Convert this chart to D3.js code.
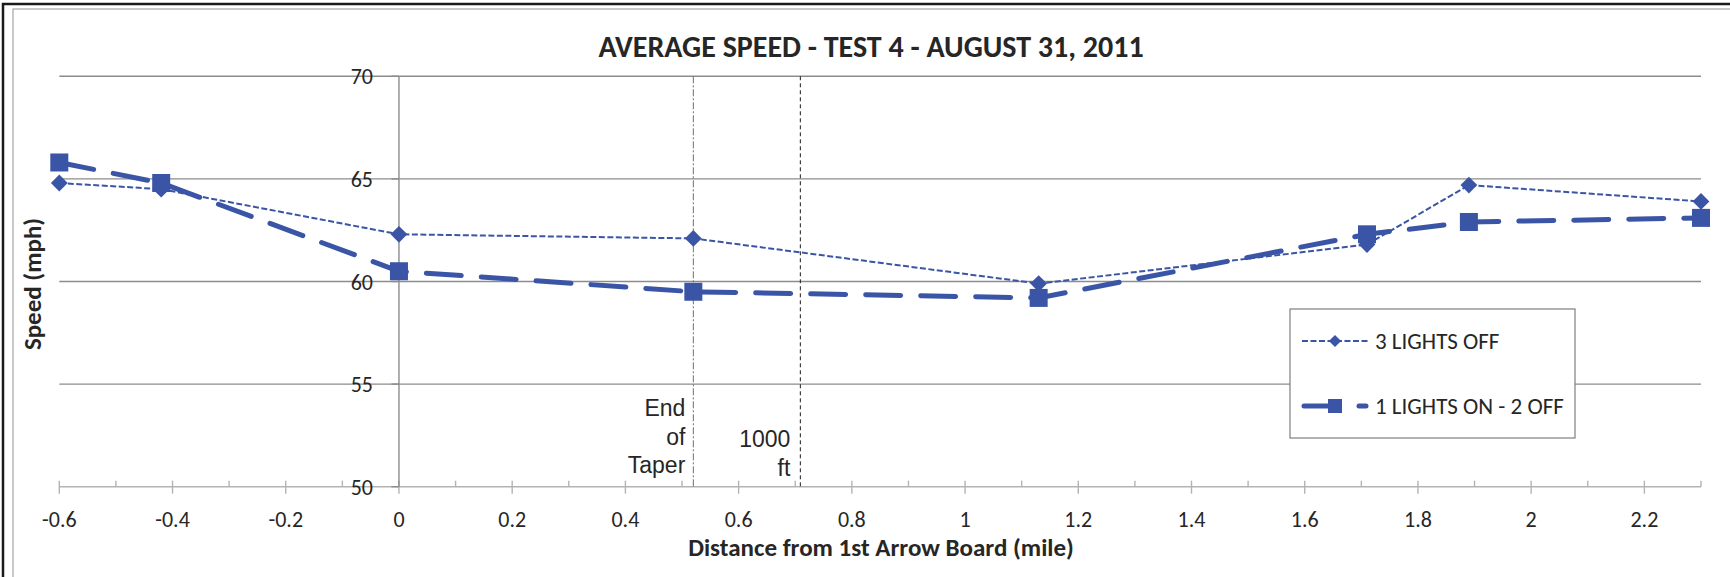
<!doctype html>
<html lang="en">
<head>
<meta charset="utf-8">
<title>Average Speed - Test 4 - August 31, 2011</title>
<script src="https://cdn.jsdelivr.net/npm/d3@7"></script>
<style>
  body { margin: 0; background: #fff; }
  svg text { font-family: Calibri, Carlito, Lato, "Open Sans", sans-serif; fill: #262626; }
  .arial { font-family: "Liberation Sans", Arial, sans-serif; }
</style>
</head>
<body>
<script>
// data
var distance  = [-0.6, -0.42, 0, 0.52, 1.13, 1.71, 1.89, 2.3];
var lightsOff = [64.8, 64.5, 62.3, 62.1, 59.9, 61.8, 64.7, 63.9];
var oneOn     = [65.8, 64.8, 60.5, 59.5, 59.2, 62.3, 62.9, 63.1];
var seriesNames = ["3 LIGHTS OFF", "1 LIGHTS ON - 2 OFF"];
var xTicks = [-0.6, -0.4, -0.2, 0, 0.2, 0.4, 0.6, 0.8, 1, 1.2, 1.4, 1.6, 1.8, 2, 2.2];
var yTicks = [50, 55, 60, 65, 70];
var endOfTaper = 0.52, thousandFt = 0.709;

var W = 1730, H = 577;
var blue = "#3a55a5";

var svg = d3.select("body").append("svg").attr("width", W).attr("height", H);

// frames
svg.append("rect").attr("x", 3).attr("y", 4).attr("width", W + 20).attr("height", H + 20)
    .attr("fill", "none").attr("stroke", "#1a1a1a").attr("stroke-width", 2.5);
svg.append("rect").attr("x", 13).attr("y", 9).attr("width", W + 20).attr("height", H + 20)
    .attr("fill", "none").attr("stroke", "#a6a6a6").attr("stroke-width", 1.2);

var x = d3.scaleLinear().domain([-0.6, 2.3]).range([59.3, 1701]);
var y = d3.scaleLinear().domain([50, 70]).range([486.7, 76.3]);

// title
svg.append("text").attr("x", 871).attr("y", 57).attr("text-anchor", "middle")
    .attr("font-size", 30).attr("font-weight", "bold").text("AVERAGE SPEED - TEST 4 - AUGUST 31, 2011");

// gridlines
svg.append("g").selectAll("line").data(yTicks.slice(1)).enter().append("line")
    .attr("x1", x(-0.6)).attr("x2", x(2.3))
    .attr("y1", function(d){return y(d);}).attr("y2", function(d){return y(d);})
    .attr("stroke", "#8c8c8c").attr("stroke-width", 1.4);

// x axis at y=50
var xAxis = svg.append("g").attr("transform", "translate(0," + y(50) + ")");
xAxis.append("line").attr("x1", x(-0.6)).attr("x2", x(2.3)).attr("stroke", "#b3b3b3").attr("stroke-width", 1.4);
var minor = d3.range(-5, 24).map(function(i){return i / 10;}).filter(function(d){return Math.round(d * 10) % 2 !== 0;});
xAxis.selectAll(".minor").data(minor).enter().append("line")
    .attr("x1", function(d){return x(d);}).attr("x2", function(d){return x(d);})
    .attr("y1", -6).attr("y2", 0).attr("stroke", "#b3b3b3").attr("stroke-width", 1.4);
xAxis.selectAll(".major").data(xTicks).enter().append("line")
    .attr("x1", function(d){return x(d);}).attr("x2", function(d){return x(d);})
    .attr("y1", -6).attr("y2", 7).attr("stroke", "#b3b3b3").attr("stroke-width", 1.4);
xAxis.selectAll("text").data(xTicks).enter().append("text")
    .attr("x", function(d){return x(d);}).attr("y", 40.6).attr("text-anchor", "middle")
    .attr("font-size", 22).text(function(d){return d;});

// y axis at x=0
var yAxis = svg.append("g").attr("transform", "translate(" + x(0) + ",0)");
yAxis.append("line").attr("y1", y(50)).attr("y2", y(70)).attr("stroke", "#8c8c8c").attr("stroke-width", 1.4);
yAxis.selectAll("line.t").data(yTicks).enter().append("line")
    .attr("x1", -7.5).attr("x2", 0)
    .attr("y1", function(d){return y(d);}).attr("y2", function(d){return y(d);})
    .attr("stroke", "#8c8c8c").attr("stroke-width", 1.4);
yAxis.selectAll("text").data(yTicks).enter().append("text")
    .attr("x", -26).attr("y", function(d){return y(d) + 8;}).attr("text-anchor", "end")
    .attr("font-size", 22).text(function(d){return d;});

// axis titles
svg.append("text").attr("x", 881).attr("y", 556).attr("text-anchor", "middle")
    .attr("font-size", 25).attr("font-weight", "bold").text("Distance from 1st Arrow Board (mile)");
svg.append("text").attr("transform", "translate(41," + 284 + ") rotate(-90)").attr("text-anchor", "middle")
    .attr("font-size", 25).attr("font-weight", "bold").text("Speed (mph)");

// reference lines
svg.append("line").attr("x1", x(endOfTaper)).attr("x2", x(endOfTaper)).attr("y1", y(70)).attr("y2", y(50))
    .attr("stroke", "#6e6e6e").attr("stroke-width", 1).attr("stroke-dasharray", "7,2,2,2");
svg.append("line").attr("x1", x(thousandFt)).attr("x2", x(thousandFt)).attr("y1", y(70)).attr("y2", y(50))
    .attr("stroke", "#1a1a1a").attr("stroke-width", 1).attr("stroke-dasharray", "4,3");

var taper = svg.append("g").attr("class", "arial").attr("font-size", 23).attr("text-anchor", "end");
taper.append("text").attr("class", "arial").attr("x", x(endOfTaper) - 8).attr("y", 416).text("End");
taper.append("text").attr("class", "arial").attr("x", x(endOfTaper) - 8).attr("y", 445).text("of");
taper.append("text").attr("class", "arial").attr("x", x(endOfTaper) - 8).attr("y", 473).text("Taper");
taper.append("text").attr("class", "arial").attr("x", x(thousandFt) - 10).attr("y", 447).text("1000");
taper.append("text").attr("class", "arial").attr("x", x(thousandFt) - 10).attr("y", 476).text("ft");

// series
var pts1 = distance.map(function(d, i){return [d, lightsOff[i]];});
var pts2 = distance.map(function(d, i){return [d, oneOn[i]];});
var line = d3.line().x(function(d){return x(d[0]);}).y(function(d){return y(d[1]);});

svg.append("path").attr("d", line(pts1)).attr("fill", "none").attr("stroke", blue)
    .attr("stroke-width", 2).attr("stroke-dasharray", "6,2.5");
svg.append("g").selectAll("path").data(pts1).enter().append("path")
    .attr("d", d3.symbol().type(d3.symbolDiamond2).size(180)())
    .attr("transform", function(d){return "translate(" + x(d[0]) + "," + y(d[1]) + ")";})
    .attr("fill", blue);

svg.append("path").attr("d", line(pts2)).attr("fill", "none").attr("stroke", blue)
    .attr("stroke-width", 5).attr("stroke-linecap", "round").attr("stroke-dasharray", "35,20");
svg.append("g").selectAll("rect").data(pts2).enter().append("rect")
    .attr("x", function(d){return x(d[0]) - 9;}).attr("y", function(d){return y(d[1]) - 9;})
    .attr("width", 18).attr("height", 18).attr("fill", blue);

// legend
var lg = svg.append("g");
lg.append("rect").attr("x", 1290).attr("y", 309).attr("width", 285).attr("height", 129)
    .attr("fill", "#fff").attr("stroke", "#7f7f7f").attr("stroke-width", 1.2);
lg.append("line").attr("x1", 1302).attr("x2", 1368).attr("y1", 341).attr("y2", 341)
    .attr("stroke", blue).attr("stroke-width", 2).attr("stroke-dasharray", "6,2.5");
lg.append("path").attr("d", d3.symbol().type(d3.symbolDiamond2).size(95)())
    .attr("transform", "translate(1335,341)").attr("fill", blue);
lg.append("text").attr("x", 1375).attr("y", 349).attr("font-size", 23).text(seriesNames[0]);
lg.append("line").attr("x1", 1304).attr("x2", 1366).attr("y1", 406).attr("y2", 406)
    .attr("stroke", blue).attr("stroke-width", 5).attr("stroke-linecap", "round").attr("stroke-dasharray", "35,20");
lg.append("rect").attr("x", 1328).attr("y", 399).attr("width", 14).attr("height", 14).attr("fill", blue);
lg.append("text").attr("x", 1375).attr("y", 414).attr("font-size", 23).text(seriesNames[1]);
</script>
</body>
</html>
